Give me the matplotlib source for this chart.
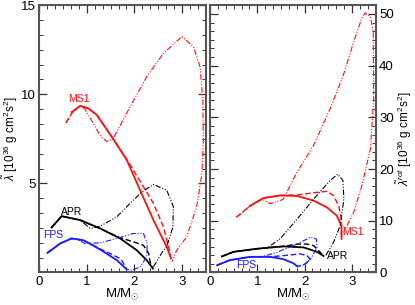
import numpy as np
import matplotlib
matplotlib.use('Agg')
import matplotlib.pyplot as plt
from matplotlib.ticker import MultipleLocator

plt.rcParams['font.family'] = ['Liberation Sans', 'DejaVu Sans']
plt.rcParams['mathtext.fontset'] = 'custom'
plt.rcParams['mathtext.rm'] = 'Liberation Sans'
plt.rcParams['mathtext.it'] = 'Liberation Sans:italic'

# ---- left panel: lambda tilde ----
# MS1
msL_sol_x = [0.68, 0.86, 1.03, 1.21, 1.545, 1.84, 2.12, 2.40, 2.68, 2.77]
msL_sol_y = [9.00, 9.35, 9.21, 8.84, 7.53, 6.31, 4.62, 2.94, 1.44, 0.79]
msL_das_x = [0.56, 0.70, 0.86, 1.03, 1.21, 1.545, 1.84, 2.19, 2.40, 2.61, 2.72, 2.77]
msL_das_y = [8.40, 9.00, 9.35, 9.21, 8.84, 7.53, 6.35, 4.81, 3.88, 2.56, 1.44, 0.79]
msL_dd_x = [0.56, 0.70, 0.86, 0.95, 1.15, 1.30, 1.42, 1.55, 1.91, 2.26, 2.61, 3.00, 3.24,
            3.38, 3.44, 3.45, 3.42, 3.31, 3.10, 2.89, 2.79]
msL_dd_y = [8.40, 9.00, 9.35, 9.20, 8.30, 7.60, 7.35, 7.50, 9.30, 10.99, 12.30, 13.24, 12.67,
            11.55, 9.68, 7.43, 5.56, 3.69, 2.00, 1.25, 0.60]
# APR
apL_sol_x = [0.26, 0.47, 0.86, 1.28, 1.70, 2.05, 2.26, 2.39]
apL_sol_y = [2.53, 3.16, 2.94, 2.47, 1.91, 1.25, 0.69, 0.22]
apL_das_x = [0.26, 0.47, 0.86, 1.28, 1.70, 1.98, 2.19, 2.30, 2.33, 2.39]
apL_das_y = [2.53, 3.16, 2.94, 2.47, 1.95, 1.72, 1.53, 1.07, 0.60, 0.22]
apL_dd_x = [0.26, 0.47, 0.86, 1.07, 1.28, 1.63, 1.91, 2.15, 2.40, 2.68, 2.82, 2.81, 2.68, 2.61, 2.40]
apL_dd_y = [2.53, 3.16, 2.94, 2.47, 2.60, 3.12, 3.88, 4.50, 4.94, 4.62, 3.69, 2.56, 1.44, 1.25, 0.31]
# FPS
fpL_sol_x = [0.17, 0.44, 0.68, 0.93, 1.28, 1.63, 1.84]
fpL_sol_y = [1.10, 1.63, 1.91, 1.81, 1.29, 0.69, 0.17]
fpL_das_x = [0.17, 0.44, 0.68, 0.93, 1.28, 1.50, 1.72, 1.84]
fpL_das_y = [1.10, 1.63, 1.91, 1.81, 1.32, 1.05, 0.75, 0.17]
fpL_dd_x = [0.17, 0.44, 0.68, 0.80, 0.96, 1.28, 1.63, 1.98, 2.19, 2.27, 2.26, 2.12, 1.95, 1.84]
fpL_dd_y = [1.10, 1.63, 1.91, 1.85, 1.63, 1.66, 1.91, 2.19, 2.19, 1.63, 0.88, 0.31, 0.13, 0.17]

# ---- right panel: lambda tilde rot ----
msR_sol_x = [0.85, 1.13, 1.48, 1.84, 2.19, 2.47, 2.68, 2.78, 2.78]
msR_sol_y = [12.9, 14.4, 14.9, 14.8, 13.9, 12.6, 11.0, 9.0, 6.5]
msR_das_x = [0.56, 0.85, 1.13, 1.48, 1.84, 2.26, 2.47, 2.61, 2.72, 2.78, 2.78]
msR_das_y = [10.7, 12.9, 14.4, 14.9, 15.0, 15.5, 15.7, 14.9, 12.9, 10.3, 6.5]
msR_dd_x = [0.56, 0.85, 1.10, 1.27, 1.48, 1.55, 1.84, 2.19, 2.54, 2.82, 3.04, 3.21, 3.28, 3.39,
            3.45, 3.46, 3.39, 3.21, 3.04, 2.86, 2.80]
msR_dd_y = [10.7, 12.9, 14.2, 13.3, 13.9, 14.2, 19.4, 24.6, 31.7, 38.2, 44.7, 49.2, 50.2, 49.5,
            46.6, 33.6, 23.9, 16.8, 11.7, 8.4, 7.8]
apR_sol_x = [0.25, 0.50, 1.00, 1.55, 1.98, 2.26, 2.40]
apR_sol_y = [3.1, 4.0, 4.6, 5.05, 4.85, 4.0, 3.2]
apR_das_x = [0.25, 0.50, 1.00, 1.55, 1.85, 2.05, 2.19, 2.30, 2.40]
apR_das_y = [3.1, 4.0, 4.6, 5.05, 5.5, 5.5, 5.2, 4.2, 3.2]
apR_dd_x = [0.25, 0.50, 1.00, 1.20, 1.48, 1.84, 2.19, 2.54, 2.70, 2.81, 2.83, 2.75, 2.61, 2.44]
apR_dd_y = [3.1, 4.0, 4.6, 4.7, 6.5, 10.3, 14.2, 17.8, 19.0, 17.8, 14.2, 9.0, 5.8, 3.2]
fpR_sol_x = [0.15, 0.42, 0.85, 1.27, 1.55, 1.76, 1.85]
fpR_sol_y = [1.4, 2.39, 3.03, 3.03, 2.58, 1.8, 1.16]
fpR_das_x = [0.15, 0.42, 0.85, 1.27, 1.60, 1.90, 2.05, 2.12, 2.00, 1.85]
fpR_das_y = [1.4, 2.39, 3.03, 3.03, 3.3, 3.6, 3.3, 2.5, 1.6, 1.16]
fpR_dd_x = [0.15, 0.42, 0.85, 1.10, 1.41, 1.84, 2.12, 2.25, 2.26, 2.15, 2.01, 1.85]
fpR_dd_y = [1.4, 2.39, 3.03, 3.05, 3.88, 5.5, 6.8, 6.46, 4.85, 2.9, 1.6, 1.16]

red = '#ff1010'
blu = '#1a1aff'
blk = '#000000'
ddash = [5, 1.5, 1, 1.5, 1, 1.5]
dash = [4, 2]

fig = plt.figure(figsize=(4.15, 3.05), dpi=100)
ax1 = fig.add_axes([0.0947, 0.1066, 0.401, 0.8764])
ax2 = fig.add_axes([0.506, 0.1066, 0.399, 0.8764])


def curves(ax, c, sx, sy, dx, dy, ddx, ddy):
	ax.plot(ddx, ddy, color=c, lw=0.8, dashes=ddash)
	ax.plot(dx, dy, color=c, lw=1.0, dashes=dash)
	ax.plot(sx, sy, color=c, lw=1.3)


curves(ax1, red, msL_sol_x, msL_sol_y, msL_das_x, msL_das_y, msL_dd_x, msL_dd_y)
curves(ax1, blk, apL_sol_x, apL_sol_y, apL_das_x, apL_das_y, apL_dd_x, apL_dd_y)
curves(ax1, blu, fpL_sol_x, fpL_sol_y, fpL_das_x, fpL_das_y, fpL_dd_x, fpL_dd_y)
curves(ax2, red, msR_sol_x, msR_sol_y, msR_das_x, msR_das_y, msR_dd_x, msR_dd_y)
curves(ax2, blk, apR_sol_x, apR_sol_y, apR_das_x, apR_das_y, apR_dd_x, apR_dd_y)
curves(ax2, blu, fpR_sol_x, fpR_sol_y, fpR_das_x, fpR_das_y, fpR_dd_x, fpR_dd_y)

ax1.text(0.61, 9.72, 'MS1', color=red, fontsize=7.5, va='center')
ax1.text(0.45, 3.4, 'APR', color=blk, fontsize=7.5, va='center')
ax1.text(0.07, 2.1, 'FPS', color=blu, fontsize=7.5, va='center')
ax2.text(2.80, 7.8, 'MS1', color=red, fontsize=7.5, va='center')
ax2.text(2.48, 3.1, 'APR', color=blk, fontsize=7.5, va='center')
ax2.text(0.55, 1.4, 'FPS', color=blu, fontsize=7.5, va='center')

ax1.set_xlim(0, 3.5)
ax1.set_ylim(0, 15)
ax1.set_yticks([5, 10, 15])
ax1.yaxis.set_minor_locator(MultipleLocator(5 / 6))
ax2.set_xlim(0, 3.5)
ax2.set_ylim(0, 51.7)
ax2.set_yticks([0, 10, 20, 30, 40, 50])
ax2.yaxis.set_minor_locator(MultipleLocator(10 / 6))
ax2.yaxis.tick_right()
ax2.yaxis.set_label_position('right')

for ax in (ax1, ax2):
	ax.set_xticks([0, 1, 2, 3])
	ax.xaxis.set_minor_locator(MultipleLocator(1 / 6))
	ax.tick_params(which='both', direction='in', top=True, right=True, left=True,
		labelsize=9.5, color='#333333', pad=2.5)
	ax.tick_params(which='major', length=6, width=0.9)
	ax.tick_params(which='minor', length=3, width=0.7)
	for s in ax.spines.values():
		s.set_linewidth(1.5)
		s.set_color('#555555')
	ax.set_xlabel(r'M/M$_{\odot}$', fontsize=9.5, labelpad=-1)

ax2.tick_params(labelleft=False, labelright=True)
ax1.set_ylabel(r'$\tilde{\lambda}$ [10$^{36}$ g cm$^2$s$^2$]', fontsize=8.5, labelpad=1)
ax2.set_ylabel(r'$\tilde{\lambda}^{rot}$ [10$^{36}$ g cm$^2$s$^2$]', fontsize=8.5, labelpad=0.5)

plt.savefig('out.png', dpi=100)
